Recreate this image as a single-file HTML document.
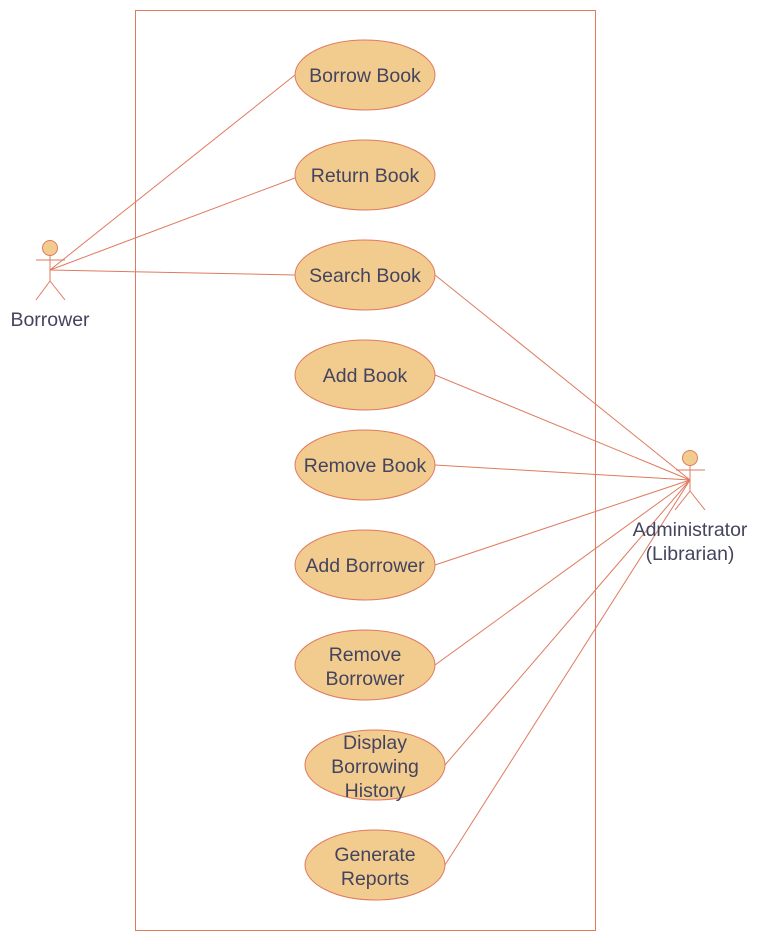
<!DOCTYPE html>
<html><head><style>body{margin:0;background:#fff}</style></head><body>
<svg width="760" height="942" xmlns="http://www.w3.org/2000/svg" font-family="Liberation Sans, sans-serif">
<rect x="135.5" y="10.5" width="460" height="920" fill="#fff" stroke="#E07A5F" stroke-width="1"/>
<g stroke="#E07A5F" stroke-width="1" fill="none">
<line x1="50" y1="270" x2="295" y2="75"/>
<line x1="50" y1="270" x2="295" y2="178"/>
<line x1="50" y1="270" x2="295" y2="275"/>
<line x1="690" y1="480" x2="435" y2="275"/>
<line x1="690" y1="480" x2="435" y2="375"/>
<line x1="690" y1="480" x2="435" y2="465"/>
<line x1="690" y1="480" x2="435" y2="565"/>
<line x1="690" y1="480" x2="435" y2="665"/>
<line x1="690" y1="480" x2="445" y2="765"/>
<line x1="690" y1="480" x2="445" y2="865"/>
</g>
<g fill="#F2CC8F" stroke="#E07A5F" stroke-width="1">
<ellipse cx="365" cy="75" rx="70" ry="35"/>
<ellipse cx="365" cy="175" rx="70" ry="35"/>
<ellipse cx="365" cy="275" rx="70" ry="35"/>
<ellipse cx="365" cy="375" rx="70" ry="35"/>
<ellipse cx="365" cy="465" rx="70" ry="35"/>
<ellipse cx="365" cy="565" rx="70" ry="35"/>
<ellipse cx="365" cy="665" rx="70" ry="35"/>
<ellipse cx="375" cy="765" rx="70" ry="35"/>
<ellipse cx="375" cy="865" rx="70" ry="35"/>
<circle cx="50" cy="248" r="7.5"/>
<circle cx="690" cy="458" r="7.5"/>
</g>
<g stroke="#E07A5F" stroke-width="1" fill="none">
<path d="M50 255.5V281M36 260H65M50 281L36 300M50 281L65 300"/>
<path d="M690 465.5V491M676 470H705M690 491L675 510M690 491L705 510"/>
</g>
<g fill="#44445e" font-size="19.5" text-anchor="middle">
<text x="365" y="82">Borrow Book</text>
<text x="365" y="182">Return Book</text>
<text x="365" y="282">Search Book</text>
<text x="365" y="382">Add Book</text>
<text x="365" y="472">Remove Book</text>
<text x="365" y="572">Add Borrower</text>
<text x="365" y="661">Remove</text>
<text x="365" y="685">Borrower</text>
<text x="375" y="749">Display</text>
<text x="375" y="773">Borrowing</text>
<text x="375" y="797">History</text>
<text x="375" y="861">Generate</text>
<text x="375" y="885">Reports</text>
<text x="50" y="326">Borrower</text>
<text x="690" y="536">Administrator</text>
<text x="690" y="560">(Librarian)</text>
</g>
</svg>
</body></html>
